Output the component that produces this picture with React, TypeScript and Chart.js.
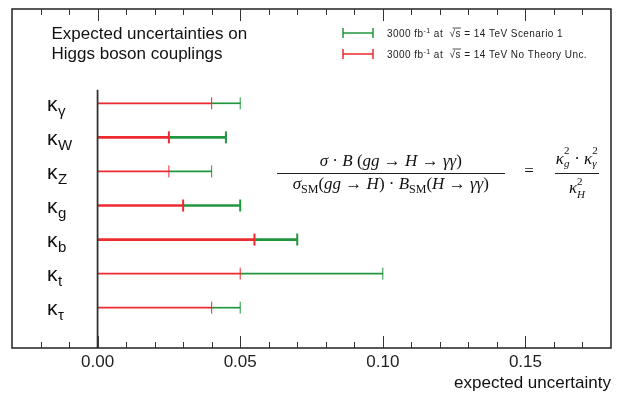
import React, { useEffect, useRef } from "react";
import { Chart, registerables } from "chart.js";

Chart.register(...registerables);

// ---- data ----
const couplings = ["γ", "W", "Z", "g", "b", "t", "τ"];
const scenario1 = [0.05, 0.045, 0.04, 0.05, 0.07, 0.1, 0.05];
const noTheoryUnc = [0.04, 0.025, 0.025, 0.03, 0.055, 0.05, 0.04];
const thickRows = [false, true, false, true, true, false, false];
const titleLines = ["Expected uncertainties on", "Higgs boson couplings"];
const legendLabels = ["Scenario 1", "No Theory Unc."];
const xMin = -0.03;
const xMax = 0.18;
const minorStep = 0.01;
const majorStep = 0.05;
const xAxisTitle = "expected uncertainty";

const GREEN = "#20973f";
const RED = "#ec2a2f";
const SANS = "'Liberation Sans', Arial, sans-serif";

const rowIdx = couplings.map((_, i) => i);
// red bar: 0 -> noTheoryUnc ; green bar continues: noTheoryUnc -> scenario1
const pickRed = (thick: boolean) =>
  rowIdx.filter((i) => thickRows[i] === thick).map((i) => ({ x: [0, noTheoryUnc[i]], y: i }));
const pickGreen = (thick: boolean) =>
  rowIdx.filter((i) => thickRows[i] === thick).map((i) => ({ x: [noTheoryUnc[i], scenario1[i]], y: i }));

const isMajor = (v: number) => Math.abs(v / majorStep - Math.round(v / majorStep)) < 1e-6;

const decorPlugin = {
  id: "decor",
  afterDatasetsDraw(chart: any) {
    const { ctx, scales } = chart;
    const xs = scales.x;
    const ys = scales.y;
    const area = chart.chartArea;
    ctx.save();
    ctx.strokeStyle = "#333";
    ctx.lineWidth = 1.8;
    ctx.beginPath();
    const x0 = xs.getPixelForValue(0);
    ctx.moveTo(x0, ys.getPixelForValue(-0.4));
    ctx.lineTo(x0, area.bottom);
    ctx.stroke();
    ctx.restore();
  },
  afterDraw(chart: any) {
    const { ctx, scales } = chart;
    const xs = scales.x;
    const ys = scales.y;
    const area = chart.chartArea;
    ctx.save();
    // frame
    ctx.strokeStyle = "#222";
    ctx.lineWidth = 1.5;
    ctx.strokeRect(area.left, area.top, area.right - area.left, area.bottom - area.top);
    // inward ticks top & bottom
    ctx.lineWidth = 1;
    ctx.strokeStyle = "#333";
    xs.ticks.forEach((t: any) => {
      const px = Math.round(xs.getPixelForValue(t.value)) + 0.5;
      if (px <= area.left + 1 || px >= area.right - 1) return;
      const len = isMajor(t.value) ? 12 : 6;
      ctx.beginPath();
      ctx.moveTo(px, area.bottom);
      ctx.lineTo(px, area.bottom - len);
      ctx.moveTo(px, area.top);
      ctx.lineTo(px, area.top + len);
      ctx.stroke();
    });
    // kappa labels
    ctx.fillStyle = "#111";
    ctx.textBaseline = "alphabetic";
    couplings.forEach((c, i) => {
      const y = ys.getPixelForValue(i);
      ctx.font = `21px ${SANS}`;
      ctx.fillText("κ", 47, y + 7.5);
      const w = ctx.measureText("κ").width;
      ctx.font = `15px ${SANS}`;
      ctx.fillText(c, 47 + w + 0.5, y + 12.5);
    });
    // title
    ctx.font = `17px ${SANS}`;
    ctx.fillStyle = "#111";
    ctx.fillText(titleLines[0], 51.5, 39.3);
    ctx.fillText(titleLines[1], 51.5, 59);
    // legend
    const legendColors = [GREEN, RED];
    legendColors.forEach((col, k) => {
      const y = 33 + k * 21;
      ctx.strokeStyle = col;
      ctx.lineWidth = 1.5;
      ctx.beginPath();
      ctx.moveTo(343, y);
      ctx.lineTo(373, y);
      ctx.moveTo(343, y - 5);
      ctx.lineTo(343, y + 5);
      ctx.moveTo(373, y - 5);
      ctx.lineTo(373, y + 5);
      ctx.stroke();
      const base = y + 3.5;
      let x = 387;
      ctx.fillStyle = "#222";
      try {
        (ctx as any).letterSpacing = "0.45px";
      } catch (e) {}
      const run = (s: string, font: string, dy = 0) => {
        ctx.font = font;
        ctx.fillText(s, x, base + dy);
        x += ctx.measureText(s).width;
      };
      run("3000 fb", `10px ${SANS}`);
      run("-1", `7px ${SANS}`, -4);
      run(" at  ", `10px ${SANS}`);
      const sx = x;
      run("√", `10px ${SANS}`);
      run("s", `10px ${SANS}`);
      ctx.strokeStyle = "#222";
      ctx.lineWidth = 0.8;
      ctx.beginPath();
      ctx.moveTo(sx + 3, base - 8.5);
      ctx.lineTo(x, base - 8.5);
      ctx.stroke();
      run(" = 14 TeV " + legendLabels[k], `10px ${SANS}`);
      try {
        (ctx as any).letterSpacing = "0px";
      } catch (e) {}
    });
    ctx.restore();
  },
};

function Sc({ sup, sub, w, supTop, subTop }: { sup?: string; sub?: string; w: number; supTop: number; subTop: number }) {
  return (
    <span style={{ display: "inline-block", position: "relative", width: w, height: 0 }}>
      {sup && (
        <span style={{ position: "absolute", left: 0, top: supTop, fontSize: 11, lineHeight: "11px", fontStyle: "normal" }}>{sup}</span>
      )}
      {sub && (
        <span style={{ position: "absolute", left: 0, top: subTop, fontSize: 11, lineHeight: "11px", fontStyle: "italic" }}>{sub}</span>
      )}
    </span>
  );
}

function SM() {
  return <span style={{ position: "relative", top: 4, fontSize: 12, fontStyle: "normal" }}>SM</span>;
}

const capDataset = (label: string, vals: number[], color: string, order: number) =>
  ({
    type: "line",
    label,
    data: rowIdx.map((i) => ({ x: vals[i], y: i })),
    showLine: false,
    pointStyle: "line",
    rotation: 90,
    pointRadius: 6,
    pointHoverRadius: 6,
    pointBorderColor: color,
    pointBorderWidth: (c: any) => (thickRows[c.dataIndex] ? 2 : 1),
    order,
  } as any);

export default function App() {
  const ref = useRef<HTMLCanvasElement>(null);
  useEffect(() => {
    if (!ref.current) return;
    const chart = new Chart(ref.current, {
      type: "bar",
      data: {
        datasets: [
          { type: "bar", label: "Scenario 1 thick", data: pickGreen(true), backgroundColor: GREEN, barThickness: 2, grouped: false, order: 6 } as any,
          { type: "bar", label: "Scenario 1 thin", data: pickGreen(false), backgroundColor: GREEN, barThickness: 1, grouped: false, order: 6 } as any,
          capDataset("Scenario 1 caps", scenario1, GREEN, 5),
          { type: "bar", label: "No Theory thick", data: pickRed(true), backgroundColor: RED, barThickness: 2, grouped: false, order: 4 } as any,
          { type: "bar", label: "No Theory thin", data: pickRed(false), backgroundColor: RED, barThickness: 1, grouped: false, order: 4 } as any,
          capDataset("No Theory caps", noTheoryUnc, RED, 3),
        ],
      },
      options: {
        indexAxis: "y",
        animation: false,
        responsive: false,
        events: [],
        layout: { padding: { left: 12, top: 9, right: 5, bottom: 0 } },
        plugins: { legend: { display: false }, tooltip: { enabled: false } },
        scales: {
          x: {
            type: "linear",
            min: xMin,
            max: xMax,
            grid: { display: false },
            border: { display: false },
            ticks: {
              stepSize: minorStep,
              maxTicksLimit: 40,
              autoSkip: false,
              maxRotation: 0,
              padding: -4,
              color: "#222",
              font: { family: SANS, size: 17 },
              callback: (v: any) => (isMajor(Number(v)) ? Number(v).toFixed(2) : ""),
            },
            title: {
              display: true,
              text: xAxisTitle,
              align: "end",
              color: "#111",
              font: { family: SANS, size: 17 },
              padding: { top: 0, bottom: -1 },
            },
            afterFit: (s: any) => {
              s.height = 45;
            },
          },
          y: {
            type: "linear",
            display: false,
            reverse: true,
            offset: false,
            min: -2.768,
            max: 7.183,
          },
        },
      } as any,
      plugins: [decorPlugin],
    });
    return () => chart.destroy();
  }, []);

  const serif = "'Liberation Serif', 'Times New Roman', serif";
  const base: React.CSSProperties = {
    position: "absolute",
    fontFamily: serif,
    fontSize: 17,
    lineHeight: "17px",
    whiteSpace: "nowrap",
    color: "#111",
    textAlign: "center",
  };
  return (
    <div style={{ position: "fixed", left: 0, top: 0, width: 618, height: 393, background: "#fff" }}>
      <canvas ref={ref} width={618} height={393} style={{ display: "block" }} />
      <div style={{ ...base, left: 276.7, width: 228.3, top: 152.4 }}>
        <i>σ</i> · <i>B</i> (<i>gg</i> → <i>H</i> → <i>γγ</i>)
      </div>
      <div style={{ position: "absolute", left: 276.7, top: 172.7, width: 228.3, borderTop: "1.3px solid #222" }} />
      <div style={{ ...base, left: 276.7, width: 228.3, top: 174.7 }}>
        <i>σ</i><SM />(<i>gg</i> → <i>H</i>) · <i>B</i><SM />(<i>H</i> → <i>γγ</i>)
      </div>
      <div style={{ ...base, left: 518, width: 22, top: 162.3 }}>=</div>
      <div style={{ ...base, left: 553, width: 48, top: 149.8 }}>
        <i>κ</i><Sc sup="2" sub="g" w={6} supTop={-19} subTop={-6} /> · <i>κ</i><Sc sup="2" sub="γ" w={6} supTop={-19} subTop={-6} />
      </div>
      <div style={{ position: "absolute", left: 555, top: 172.7, width: 44, borderTop: "1.3px solid #222" }} />
      <div style={{ ...base, left: 553, width: 48, top: 178.8 }}>
        <i>κ</i><Sc sup="2" sub="H" w={8} supTop={-17} subTop={-4} />
      </div>
    </div>
  );
}
